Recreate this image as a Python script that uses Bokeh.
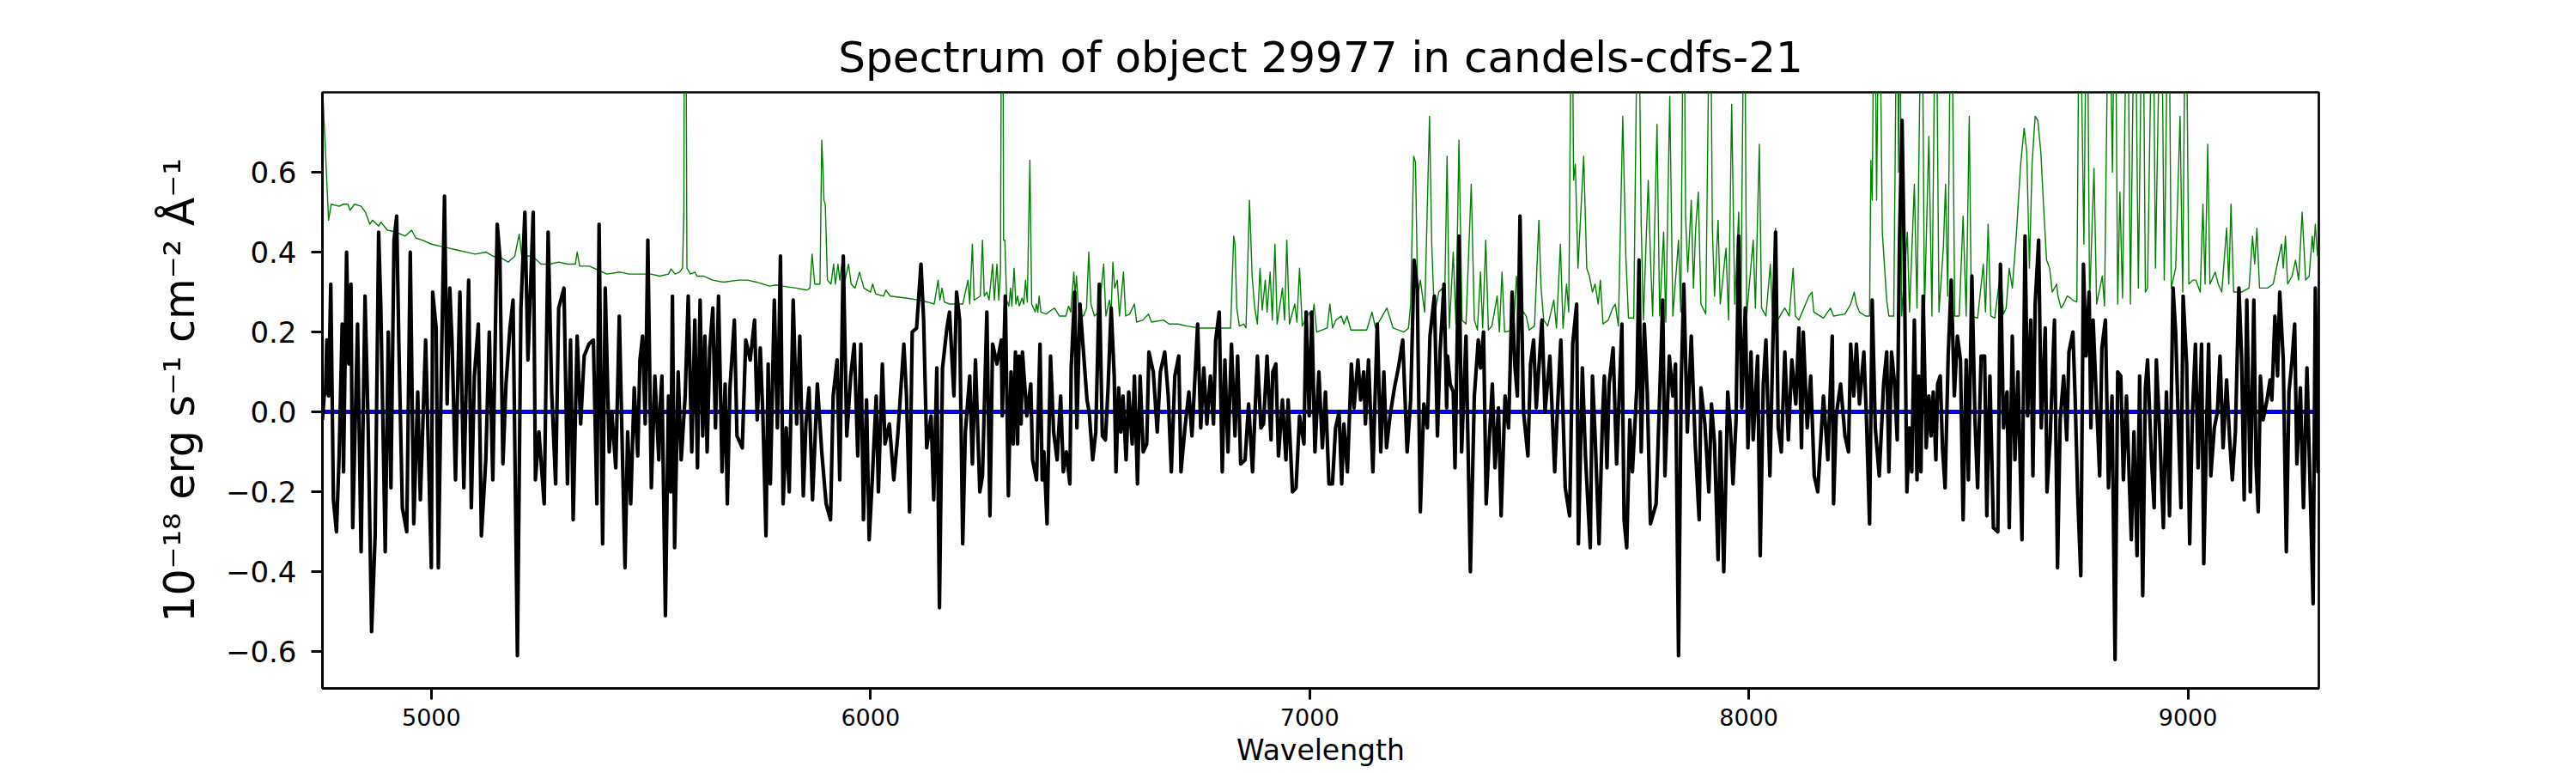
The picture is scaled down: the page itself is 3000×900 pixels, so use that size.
from bokeh.plotting import figure
from bokeh.models import Range1d, FixedTicker, CustomJSTickFormatter, ColumnDataSource
from bokeh.embed import file_html
from bokeh.resources import INLINE

# ---------------- data (wavelength [A], flux [1e-18 erg/s/cm2/A]) ----------------
# object spectrum (black), read segment by segment
flux_4750_5520 = [
    (4752, -0.02), (4756, 0.04), (4759, 0.05), (4762, 0.18), (4766, 0.04), (4771, 0.32),
    (4777, -0.22), (4784, -0.30), (4790, -0.11), (4797, 0.22), (4800, -0.15), (4807, 0.40),
    (4812, 0.12), (4817, 0.32), (4821, -0.29), (4832, 0.22), (4840, -0.35), (4849, 0.29),
    (4856, -0.03), (4864, -0.55), (4872, -0.31), (4880, 0.45), (4885, 0.26), (4895, -0.35),
    (4902, 0.20), (4908, -0.19), (4915, 0.43), (4921, 0.49), (4926, 0.17), (4934, -0.24),
    (4944, -0.30), (4952, 0.40), (4960, -0.28), (4969, 0.05), (4975, -0.22), (4987, 0.18),
    (5000, -0.39), (5003, 0.30), (5011, 0.21), (5016, -0.39), (5023, 0.12), (5030, 0.54),
    (5036, 0.02), (5042, 0.31), (5047, 0.18), (5055, -0.17), (5065, 0.30), (5074, -0.19),
    (5085, 0.33), (5091, -0.24), (5098, 0.09), (5107, 0.22), (5114, -0.31), (5124, -0.12),
    (5132, 0.20), (5140, -0.17), (5150, 0.47), (5156, 0.39), (5163, -0.13), (5170, 0.07),
    (5179, 0.21), (5186, 0.28), (5196, -0.61), (5204, 0.26), (5213, 0.50), (5220, 0.13),
    (5232, 0.50), (5237, -0.17), (5245, -0.05), (5257, -0.23), (5266, 0.45), (5274, 0.05),
    (5283, -0.18), (5290, 0.26), (5302, 0.31), (5310, -0.18), (5317, 0.18), (5323, -0.27),
    (5332, 0.19), (5340, -0.03), (5348, 0.14), (5359, 0.17), (5369, 0.18), (5377, -0.23),
    (5382, 0.47), (5390, -0.33), (5396, 0.31), (5405, -0.10), (5411, 0.00), (5420, -0.14),
    (5428, 0.24), (5441, -0.39), (5447, -0.05), (5454, -0.23), (5462, 0.06), (5470, -0.11),
    (5475, 0.13), (5481, 0.19), (5487, -0.03), (5493, 0.43), (5501, -0.19), (5509, 0.09),
    (5518, -0.12),
]
flux_5520_6300 = [
    (5520, -0.01), (5525, 0.09), (5533, -0.51), (5540, 0.04), (5545, -0.20), (5549, 0.29),
    (5554, -0.34), (5562, 0.10), (5569, -0.12), (5578, 0.04), (5585, 0.29), (5593, -0.10),
    (5600, 0.23), (5606, -0.14), (5612, 0.28), (5618, -0.06), (5623, 0.19), (5628, -0.10),
    (5634, 0.16), (5641, 0.26), (5647, -0.04), (5654, 0.29), (5662, -0.15), (5669, 0.07),
    (5674, -0.23), (5680, 0.06), (5690, 0.23), (5696, -0.06), (5708, -0.09), (5716, 0.18),
    (5726, 0.13), (5736, 0.23), (5742, -0.02), (5749, 0.16), (5755, -0.01), (5762, -0.31),
    (5767, 0.12), (5772, -0.18), (5781, 0.28), (5788, -0.04), (5795, 0.39), (5801, -0.23),
    (5808, -0.04), (5815, -0.20), (5824, 0.28), (5832, -0.03), (5839, 0.19), (5847, -0.21),
    (5853, -0.03), (5860, 0.06), (5868, -0.22), (5879, 0.07), (5889, -0.10), (5899, -0.23),
    (5909, -0.27), (5915, 0.04), (5924, 0.13), (5930, -0.17), (5938, 0.39), (5946, -0.06),
    (5955, 0.09), (5963, 0.17), (5971, -0.11), (5978, 0.17), (5984, -0.27), (5991, 0.03),
    (5997, -0.32), (6004, -0.17), (6013, 0.04), (6018, -0.20), (6027, 0.12), (6033, -0.08),
    (6043, -0.03), (6053, -0.17), (6062, -0.06), (6076, 0.17), (6082, 0.04), (6089, -0.25),
    (6095, 0.20), (6105, 0.21), (6115, 0.37), (6121, 0.23), (6128, -0.09), (6138, -0.01),
    (6144, -0.22), (6151, 0.11), (6157, -0.49), (6164, 0.11), (6174, 0.21), (6180, 0.25),
    (6190, 0.04), (6196, 0.30), (6203, 0.23), (6210, -0.33), (6216, -0.05), (6226, 0.09),
    (6232, -0.13), (6239, 0.13), (6249, -0.20), (6255, -0.16), (6265, 0.25), (6272, -0.26),
    (6278, 0.17), (6288, 0.12), (6298, 0.18),
]
flux_6300_7312 = [
    (6300, -0.01), (6307, 0.29), (6314, -0.21), (6320, 0.10), (6325, -0.08), (6330, 0.15),
    (6335, -0.08), (6338, 0.14), (6343, -0.03), (6346, 0.15), (6356, -0.01), (6365, 0.07),
    (6369, -0.12), (6378, -0.17), (6386, 0.17), (6391, -0.17), (6395, -0.10), (6402, -0.28),
    (6410, 0.14), (6417, -0.05), (6425, -0.12), (6433, 0.04), (6439, -0.15), (6446, -0.10),
    (6454, -0.18), (6457, 0.11), (6465, 0.30), (6470, -0.04), (6477, 0.27), (6485, 0.15),
    (6493, 0.03), (6498, 0.00), (6506, -0.12), (6513, -0.05), (6521, 0.32), (6528, -0.06),
    (6535, -0.07), (6541, 0.06), (6548, 0.26), (6555, 0.09), (6559, -0.15), (6565, 0.06),
    (6570, -0.05), (6575, 0.04), (6582, -0.12), (6588, 0.05), (6596, -0.08), (6601, 0.09),
    (6608, -0.18), (6614, 0.09), (6621, -0.10), (6629, -0.08), (6634, 0.15), (6644, 0.10),
    (6653, -0.05), (6660, 0.10), (6670, 0.15), (6678, 0.04), (6685, -0.15), (6693, 0.09),
    (6702, 0.14), (6707, -0.15), (6716, -0.04), (6725, 0.05), (6732, -0.06), (6745, 0.22),
    (6752, -0.04), (6759, 0.11), (6766, -0.03), (6774, 0.09), (6781, -0.03), (6786, 0.18),
    (6794, 0.25), (6801, -0.15), (6807, 0.13), (6814, -0.10), (6822, 0.17), (6830, -0.06),
    (6836, 0.14), (6843, -0.13), (6853, -0.12), (6861, 0.02), (6870, -0.15), (6881, 0.14),
    (6889, -0.04), (6895, -0.03), (6903, 0.14), (6912, -0.07), (6916, 0.10), (6923, 0.12),
    (6929, -0.11), (6938, 0.03), (6946, -0.12), (6951, 0.03), (6961, -0.20), (6969, -0.19),
    (6977, -0.01), (6987, -0.08), (6992, 0.25), (6999, -0.01), (7005, 0.25), (7012, -0.10),
    (7021, 0.10), (7029, -0.09), (7036, 0.05), (7044, -0.18), (7052, -0.18), (7059, -0.04),
    (7067, 0.00), (7073, -0.18), (7078, -0.03), (7086, -0.15), (7095, 0.12), (7101, 0.01),
    (7110, 0.13), (7116, 0.03), (7123, 0.10), (7127, -0.03), (7134, 0.13), (7144, -0.15),
    (7154, 0.22), (7162, -0.10), (7169, 0.10), (7175, -0.09), (7183, -0.01), (7193, 0.06),
    (7202, 0.11), (7212, 0.18), (7222, -0.10), (7230, 0.03), (7238, 0.38), (7245, 0.31),
    (7252, -0.25), (7260, 0.02), (7268, -0.04), (7274, 0.19), (7284, 0.29), (7291, -0.06),
    (7297, 0.15), (7306, 0.32), (7312, 0.01),
]
flux_7312_8320 = [
    (7314, 0.14), (7320, 0.07), (7327, 0.05), (7331, -0.14), (7340, 0.44), (7346, -0.10),
    (7356, 0.19), (7366, -0.40), (7375, 0.04), (7384, 0.18), (7389, 0.11), (7396, 0.20),
    (7402, -0.23), (7409, -0.07), (7416, 0.07), (7422, -0.14), (7430, 0.01), (7436, -0.26),
    (7445, 0.04), (7453, -0.04), (7461, 0.30), (7467, 0.12), (7473, 0.04), (7479, 0.49),
    (7487, 0.00), (7497, -0.11), (7503, 0.12), (7510, 0.18), (7516, 0.01), (7529, 0.23),
    (7536, 0.00), (7547, 0.14), (7558, -0.15), (7564, 0.00), (7572, 0.18), (7582, -0.19),
    (7592, -0.26), (7599, 0.17), (7608, 0.27), (7612, -0.33), (7621, 0.11), (7628, -0.11),
    (7639, -0.34), (7644, 0.09), (7650, -0.06), (7659, -0.33), (7667, -0.01), (7671, 0.09),
    (7677, -0.14), (7682, 0.07), (7691, 0.16), (7699, -0.13), (7711, 0.22), (7716, -0.27),
    (7722, -0.34), (7729, -0.02), (7735, -0.15), (7745, 0.06), (7750, 0.38), (7755, -0.10),
    (7762, 0.22), (7769, 0.04), (7776, -0.28), (7789, -0.23), (7797, 0.04), (7804, 0.28),
    (7809, -0.16), (7819, 0.14), (7827, 0.04), (7833, 0.12), (7840, -0.61), (7846, 0.07),
    (7852, 0.32), (7860, -0.05), (7869, 0.19), (7878, -0.08), (7887, -0.27), (7891, 0.06),
    (7900, -0.03), (7909, -0.20), (7915, 0.02), (7922, -0.08), (7930, -0.37), (7935, -0.05),
    (7943, -0.40), (7952, 0.05), (7958, -0.04), (7964, -0.18), (7971, -0.02), (7977, 0.44),
    (7984, 0.01), (7992, 0.26), (7998, -0.09), (8005, 0.15), (8010, -0.07), (8020, 0.14),
    (8026, -0.36), (8033, 0.07), (8039, 0.18), (8048, -0.16), (8054, 0.13), (8061, 0.45),
    (8067, -0.04), (8074, -0.10), (8082, 0.15), (8090, -0.07), (8098, 0.13), (8107, 0.02),
    (8114, 0.21), (8120, -0.09), (8124, 0.20), (8133, -0.04), (8141, 0.09), (8149, -0.16),
    (8157, -0.20), (8164, -0.07), (8170, 0.04), (8180, -0.12), (8190, 0.19), (8193, -0.23),
    (8199, -0.01), (8209, 0.07), (8219, -0.06), (8227, -0.10), (8232, 0.17), (8239, 0.04),
    (8245, 0.17), (8252, 0.02), (8262, 0.15), (8268, -0.02), (8275, -0.28), (8281, 0.28),
    (8288, -0.04), (8297, -0.16), (8307, 0.07), (8314, 0.15),
]
flux_8320_9300 = [
    (8319, -0.15), (8325, 0.15), (8332, 0.07), (8338, -0.07), (8343, 0.42), (8349, 0.73),
    (8354, 0.38), (8360, -0.20), (8366, -0.04), (8371, -0.15), (8377, 0.23), (8383, -0.17),
    (8387, 0.09), (8392, -0.15), (8397, 0.29), (8404, -0.09), (8410, 0.04), (8415, -0.06),
    (8420, 0.05), (8426, -0.12), (8430, 0.07), (8436, 0.09), (8441, -0.09), (8447, -0.19),
    (8454, 0.14), (8461, 0.33), (8468, 0.04), (8475, 0.19), (8482, 0.13), (8488, -0.27),
    (8495, 0.13), (8500, -0.17), (8508, 0.34), (8515, -0.02), (8521, -0.19), (8529, 0.14),
    (8537, 0.14), (8542, -0.26), (8549, 0.09), (8557, -0.29), (8567, -0.30), (8573, 0.37),
    (8580, -0.04), (8588, 0.05), (8593, -0.29), (8600, 0.19), (8606, -0.12), (8613, 0.10),
    (8622, -0.32), (8629, 0.44), (8635, -0.01), (8642, 0.23), (8647, -0.16), (8652, 0.27),
    (8660, 0.43), (8666, -0.04), (8675, 0.21), (8679, -0.20), (8686, -0.07), (8696, 0.23),
    (8703, -0.39), (8709, -0.02), (8717, 0.09), (8724, -0.07), (8729, 0.15), (8738, 0.20),
    (8743, 0.04), (8749, -0.21), (8756, -0.41), (8762, 0.37), (8768, 0.14), (8775, 0.30),
    (8779, -0.04), (8784, 0.23), (8790, 0.07), (8799, -0.16), (8804, 0.16), (8812, 0.23),
    (8819, -0.19), (8827, 0.04), (8834, -0.62), (8840, 0.10), (8847, 0.09), (8853, -0.17),
    (8860, 0.04), (8871, -0.32), (8877, -0.05), (8884, -0.36), (8890, 0.09), (8897, -0.46),
    (8903, 0.06), (8908, 0.13), (8917, -0.12), (8923, -0.24), (8928, 0.13), (8936, -0.06),
    (8944, -0.29), (8951, 0.05), (8958, -0.26), (8966, 0.31), (8972, 0.20), (8979, -0.06),
    (8984, -0.24), (8989, 0.29), (8997, 0.12), (9004, -0.33), (9010, -0.01), (9017, 0.17),
    (9023, -0.14), (9031, 0.17), (9036, -0.38), (9043, -0.01), (9047, 0.17), (9052, -0.16),
    (9060, -0.04), (9067, 0.00), (9073, 0.14), (9080, -0.09), (9088, 0.08), (9095, -0.07),
    (9101, -0.17), (9108, -0.05), (9116, 0.31), (9122, 0.14), (9128, -0.22), (9134, 0.28),
    (9142, -0.20), (9150, 0.28), (9155, -0.13), (9160, -0.25), (9165, 0.09), (9171, -0.02),
    (9180, 0.03), (9187, 0.08), (9191, 0.03), (9198, 0.24), (9204, 0.09), (9209, 0.30),
    (9217, 0.13), (9224, -0.35), (9230, 0.05), (9237, 0.13), (9243, 0.22), (9248, -0.13),
    (9256, 0.06), (9263, -0.24), (9271, 0.11), (9278, -0.18), (9285, -0.48), (9290, 0.31),
    (9296, -0.15), (9298, -0.02),
]

# noise / sky spectrum (green)
noise_4750_5520 = [
    (4752, 0.82), (4766, 0.48), (4772, 0.52), (4790, 0.515), (4800, 0.52), (4810, 0.52),
    (4815, 0.505), (4825, 0.52), (4840, 0.515), (4850, 0.50), (4860, 0.47), (4866, 0.48),
    (4880, 0.465), (4885, 0.475), (4900, 0.455), (4920, 0.45), (4940, 0.44), (4955, 0.455),
    (4965, 0.435), (4980, 0.43), (5000, 0.42), (5020, 0.415), (5040, 0.41), (5060, 0.405),
    (5080, 0.40), (5100, 0.395), (5125, 0.40), (5140, 0.39), (5160, 0.385), (5175, 0.375),
    (5190, 0.39), (5200, 0.445), (5206, 0.39), (5225, 0.39), (5235, 0.385), (5250, 0.37),
    (5270, 0.37), (5290, 0.375), (5310, 0.37), (5328, 0.37), (5332, 0.40), (5338, 0.365),
    (5360, 0.365), (5380, 0.355), (5400, 0.345), (5430, 0.35), (5450, 0.345), (5470, 0.345),
    (5500, 0.345), (5520, 0.34),
]
noise_5520_6300 = [
    (5540, 0.345), (5546, 0.358), (5555, 0.345), (5565, 0.35), (5572, 0.36), (5575, 0.50),
    (5577, 1.3), (5579, 1.3), (5582, 0.36), (5590, 0.345), (5600, 0.35), (5605, 0.34),
    (5620, 0.34), (5640, 0.33), (5665, 0.325), (5700, 0.33), (5720, 0.33), (5740, 0.325),
    (5770, 0.315), (5785, 0.318), (5800, 0.315), (5830, 0.31), (5855, 0.305), (5862, 0.31),
    (5867, 0.395), (5873, 0.32), (5885, 0.32), (5889, 0.68), (5892, 0.60), (5894, 0.53),
    (5897, 0.52), (5902, 0.33), (5910, 0.32), (5916, 0.37), (5920, 0.32), (5926, 0.37),
    (5930, 0.33), (5936, 0.38), (5940, 0.32), (5950, 0.37), (5956, 0.32), (5965, 0.31),
    (5975, 0.35), (5985, 0.31), (6000, 0.30), (6005, 0.32), (6012, 0.295), (6030, 0.29),
    (6035, 0.305), (6045, 0.29), (6080, 0.285), (6110, 0.28), (6130, 0.275), (6145, 0.27),
    (6154, 0.33), (6158, 0.28), (6163, 0.31), (6168, 0.275), (6180, 0.27), (6195, 0.27),
    (6210, 0.27), (6222, 0.33), (6226, 0.27), (6232, 0.42), (6236, 0.28), (6250, 0.29),
    (6255, 0.43), (6259, 0.29), (6265, 0.30), (6270, 0.28), (6278, 0.37), (6282, 0.28),
    (6288, 0.37), (6292, 0.28), (6296, 0.35),
]
noise_6300_7312 = [
    (6299, 1.3), (6301, 1.3), (6303, 0.43), (6306, 0.43), (6310, 0.28), (6315, 0.265),
    (6319, 0.31), (6322, 0.265), (6327, 0.36), (6331, 0.27), (6335, 0.29), (6339, 0.265),
    (6345, 0.285), (6349, 0.27), (6353, 0.33), (6357, 0.275), (6363, 0.63), (6367, 0.27),
    (6375, 0.25), (6378, 0.27), (6381, 0.25), (6384, 0.29), (6388, 0.25), (6400, 0.245),
    (6412, 0.255), (6419, 0.26), (6430, 0.24), (6445, 0.24), (6451, 0.265), (6456, 0.25),
    (6463, 0.35), (6466, 0.29), (6469, 0.34), (6474, 0.25), (6485, 0.24), (6492, 0.26),
    (6497, 0.40), (6502, 0.27), (6510, 0.24), (6520, 0.25), (6531, 0.37), (6536, 0.24),
    (6544, 0.28), (6548, 0.25), (6552, 0.375), (6556, 0.31), (6562, 0.33), (6567, 0.24),
    (6576, 0.35), (6581, 0.24), (6590, 0.245), (6601, 0.27), (6606, 0.225), (6620, 0.23),
    (6633, 0.245), (6640, 0.225), (6667, 0.23), (6680, 0.22), (6700, 0.22), (6720, 0.215),
    (6750, 0.21), (6780, 0.21), (6800, 0.21), (6820, 0.21), (6827, 0.44), (6830, 0.42),
    (6834, 0.26), (6840, 0.215), (6850, 0.22), (6855, 0.21), (6863, 0.53), (6869, 0.34),
    (6875, 0.26), (6881, 0.22), (6887, 0.36), (6892, 0.255), (6899, 0.33), (6903, 0.25),
    (6910, 0.35), (6915, 0.23), (6921, 0.42), (6926, 0.22), (6938, 0.31), (6943, 0.23),
    (6948, 0.43), (6954, 0.22), (6966, 0.27), (6971, 0.225), (6977, 0.36), (6983, 0.215),
    (7000, 0.25), (7004, 0.22), (7010, 0.27), (7016, 0.20), (7040, 0.21), (7046, 0.27),
    (7052, 0.21), (7060, 0.23), (7072, 0.24), (7078, 0.22), (7085, 0.24), (7094, 0.205),
    (7130, 0.205), (7142, 0.25), (7150, 0.21), (7176, 0.26), (7190, 0.21), (7215, 0.20),
    (7225, 0.21), (7230, 0.27), (7237, 0.64), (7241, 0.625), (7246, 0.29), (7252, 0.33),
    (7262, 0.25), (7273, 0.74), (7278, 0.42), (7284, 0.24), (7294, 0.30), (7302, 0.31),
    (7307, 0.25),
]
noise_7312_8320 = [
    (7313, 0.64), (7318, 0.21), (7327, 0.40), (7333, 0.22), (7340, 0.68), (7347, 0.23),
    (7356, 0.22), (7368, 0.57), (7375, 0.23), (7382, 0.205), (7389, 0.35), (7394, 0.21),
    (7401, 0.43), (7407, 0.205), (7415, 0.215), (7427, 0.29), (7432, 0.20), (7438, 0.35),
    (7444, 0.20), (7464, 0.205), (7471, 0.34), (7477, 0.23), (7487, 0.25), (7493, 0.24),
    (7500, 0.205), (7512, 0.215), (7522, 0.48), (7527, 0.31), (7533, 0.23), (7542, 0.215),
    (7556, 0.28), (7562, 0.21), (7571, 0.42), (7577, 0.21), (7585, 0.32), (7590, 0.25),
    (7597, 1.2), (7601, 0.58), (7605, 0.62), (7611, 0.36), (7624, 0.64), (7631, 0.36),
    (7637, 0.34), (7644, 0.30), (7650, 0.32), (7657, 0.27), (7662, 0.33), (7668, 0.22),
    (7680, 0.23), (7690, 0.26), (7696, 0.27), (7703, 0.215), (7713, 0.74), (7720, 0.39),
    (7726, 0.235), (7738, 0.235), (7748, 1.2), (7755, 0.47), (7760, 0.23), (7771, 0.58),
    (7776, 0.39), (7781, 0.24), (7791, 0.72), (7797, 0.24), (7806, 0.45), (7811, 0.225),
    (7820, 0.79), (7827, 0.24), (7840, 0.43), (7845, 0.25), (7852, 1.2), (7856, 0.49),
    (7861, 0.35), (7869, 0.53), (7874, 0.31), (7879, 0.46), (7885, 0.55), (7891, 0.27),
    (7902, 0.245), (7912, 1.2), (7917, 0.46), (7922, 0.29), (7930, 0.48), (7935, 0.27),
    (7948, 0.41), (7954, 0.23), (7961, 0.77), (7968, 0.27), (7977, 0.50), (7982, 0.25),
    (7990, 1.2), (7995, 0.24), (8010, 0.43), (8015, 0.26), (8024, 0.67), (8029, 0.26),
    (8039, 0.24), (8049, 0.37), (8054, 0.24), (8061, 0.46), (8066, 0.23), (8076, 0.25),
    (8082, 0.26), (8092, 0.24), (8101, 0.36), (8106, 0.24), (8114, 0.23), (8137, 0.29),
    (8144, 0.30), (8148, 0.25), (8170, 0.235), (8186, 0.26), (8193, 0.24), (8219, 0.245),
    (8232, 0.27), (8240, 0.30), (8245, 0.27), (8252, 0.25), (8266, 0.24), (8275, 0.24),
    (8278, 0.63), (8281, 0.53), (8286, 1.2), (8291, 0.53), (8297, 1.2), (8304, 0.45),
    (8314, 0.28),
]
noise_8320_9300 = [
    (8319, 0.24), (8330, 0.24), (8338, 1.2), (8341, 0.60), (8344, 1.2), (8348, 0.24),
    (8361, 0.45), (8366, 0.25), (8377, 0.57), (8383, 0.26), (8394, 1.2), (8400, 0.25),
    (8410, 0.69), (8417, 0.24), (8426, 1.2), (8433, 0.25), (8443, 0.41), (8448, 0.57),
    (8453, 0.29), (8461, 1.2), (8469, 0.24), (8479, 0.24), (8488, 0.49), (8495, 0.24),
    (8502, 0.74), (8507, 0.24), (8521, 0.235), (8534, 0.37), (8539, 0.25), (8545, 0.47),
    (8551, 0.24), (8560, 0.235), (8573, 0.35), (8580, 0.245), (8586, 0.26), (8593, 0.36),
    (8600, 0.31), (8609, 0.44), (8619, 0.62), (8627, 0.71), (8633, 0.65), (8639, 0.36),
    (8645, 0.62), (8652, 0.74), (8658, 0.73), (8665, 0.65), (8671, 0.52), (8678, 0.38),
    (8685, 0.36), (8691, 0.30), (8701, 0.32), (8704, 0.29), (8711, 0.26), (8717, 0.27),
    (8725, 0.29), (8733, 0.285), (8737, 0.28), (8747, 0.275), (8753, 1.2), (8763, 0.42),
    (8770, 1.2), (8776, 0.275), (8786, 0.61), (8792, 0.27), (8805, 0.34), (8810, 0.265),
    (8820, 1.2), (8828, 0.60), (8834, 1.2), (8840, 0.27), (8845, 0.55), (8851, 0.285),
    (8862, 1.2), (8869, 0.27), (8879, 1.2), (8887, 0.31), (8897, 1.2), (8903, 0.30),
    (8908, 0.31), (8920, 1.2), (8926, 0.36), (8939, 1.2), (8946, 0.33), (8956, 1.2),
    (8962, 0.31), (8972, 0.36), (8982, 0.74), (8988, 0.30), (8995, 1.2), (9002, 0.32),
    (9011, 0.33), (9018, 0.33), (9028, 0.30), (9034, 0.52), (9039, 0.32), (9045, 0.67),
    (9050, 0.32), (9062, 0.35), (9069, 0.32), (9077, 0.30), (9088, 0.46), (9093, 0.32),
    (9098, 0.52), (9104, 0.30), (9122, 0.30), (9139, 0.31), (9147, 0.44), (9152, 0.37),
    (9157, 0.46), (9163, 0.31), (9181, 0.31), (9194, 0.32), (9213, 0.42), (9217, 0.36),
    (9222, 0.44), (9227, 0.32), (9237, 0.34), (9245, 0.38), (9252, 0.33), (9260, 0.50),
    (9268, 0.33), (9276, 0.34), (9283, 0.44), (9286, 0.40), (9290, 0.47), (9295, 0.39),
    (9298, 0.39),
]

# continuum model (blue)
model_wave = [4752, 9298]
model_flux = [0.0, 0.0]

x_ticks = [5000, 6000, 7000, 8000, 9000]
y_ticks = [-0.6, -0.4, -0.2, 0.0, 0.2, 0.4, 0.6]
y_limits = (-0.692, 0.80)

title_text = "Spectrum of object 29977 in candels-cdfs-21"
x_label = "Wavelength"
y_label = "10\u207b\u00b9\u2078 erg s\u207b\u00b9 cm\u207b\u00b2 \u00c5\u207b\u00b9"

# ---------------- build ----------------
flux_pts = flux_4750_5520 + flux_5520_6300 + flux_6300_7312 + flux_7312_8320 + flux_8320_9300
noise_pts = noise_4750_5520 + noise_5520_6300 + noise_6300_7312 + noise_7312_8320 + noise_8320_9300

flux_src = ColumnDataSource(dict(x=[a for a, b in flux_pts], y=[b for a, b in flux_pts]))
noise_src = ColumnDataSource(dict(x=[a for a, b in noise_pts], y=[b for a, b in noise_pts]))
model_src = ColumnDataSource(dict(x=model_wave, y=model_flux))

FONT = "DejaVu Sans"

p = figure(
    width=3000, height=900,
    output_backend="svg", toolbar_location=None,
    x_range=Range1d(min(flux_src.data["x"]), max(flux_src.data["x"])),
    y_range=Range1d(*y_limits),
    min_border_left=375, min_border_right=300, min_border_top=107, min_border_bottom=99,
    background_fill_color="white", border_fill_color="white",
)

p.title.text = title_text
p.title.text_font = FONT
p.title.text_font_size = "50px"
p.title.text_font_style = "normal"
p.title.text_color = "black"
p.title.align = "center"
p.title.standoff = 23

p.grid.visible = False
p.outline_line_color = "black"
p.outline_line_width = 2.7
p.outline_line_alpha = 1.0

p.line("x", "y", source=noise_src, color="#008000", line_width=1.4, line_join="round")
p.line("x", "y", source=model_src, color="#0000ff", line_width=5)
p.line("x", "y", source=flux_src, color="black", line_width=4.2, line_join="round")

for ax in (p.xaxis[0], p.yaxis[0]):
    ax.axis_line_color = "black"
    ax.axis_line_width = 2.7
    ax.major_tick_line_color = "black"
    ax.major_tick_line_width = 3
    ax.major_tick_out = 13
    ax.major_tick_in = 0
    ax.minor_tick_line_color = None
    ax.major_label_text_font = FONT
    ax.major_label_text_color = "black"
    ax.axis_label_text_font = FONT
    ax.axis_label_text_font_style = "normal"
    ax.axis_label_text_color = "black"

xa = p.xaxis[0]
xa.ticker = FixedTicker(ticks=x_ticks)
xa.formatter = CustomJSTickFormatter(code="return tick.toFixed(0);")
xa.major_label_text_font_size = "27px"
xa.major_label_standoff = 10
xa.axis_label = x_label
xa.axis_label_text_font_size = "33px"
xa.axis_label_standoff = 6

ya = p.yaxis[0]
ya.ticker = FixedTicker(ticks=y_ticks)
ya.formatter = CustomJSTickFormatter(code="return tick.toFixed(1).replace('-', '\u2212');")
ya.major_label_text_font_size = "34px"
ya.major_label_standoff = 17
ya.axis_label = y_label
ya.axis_label_text_font_size = "49px"
ya.axis_label_standoff = 22

open("out.html", "w").write(file_html(p, INLINE))
